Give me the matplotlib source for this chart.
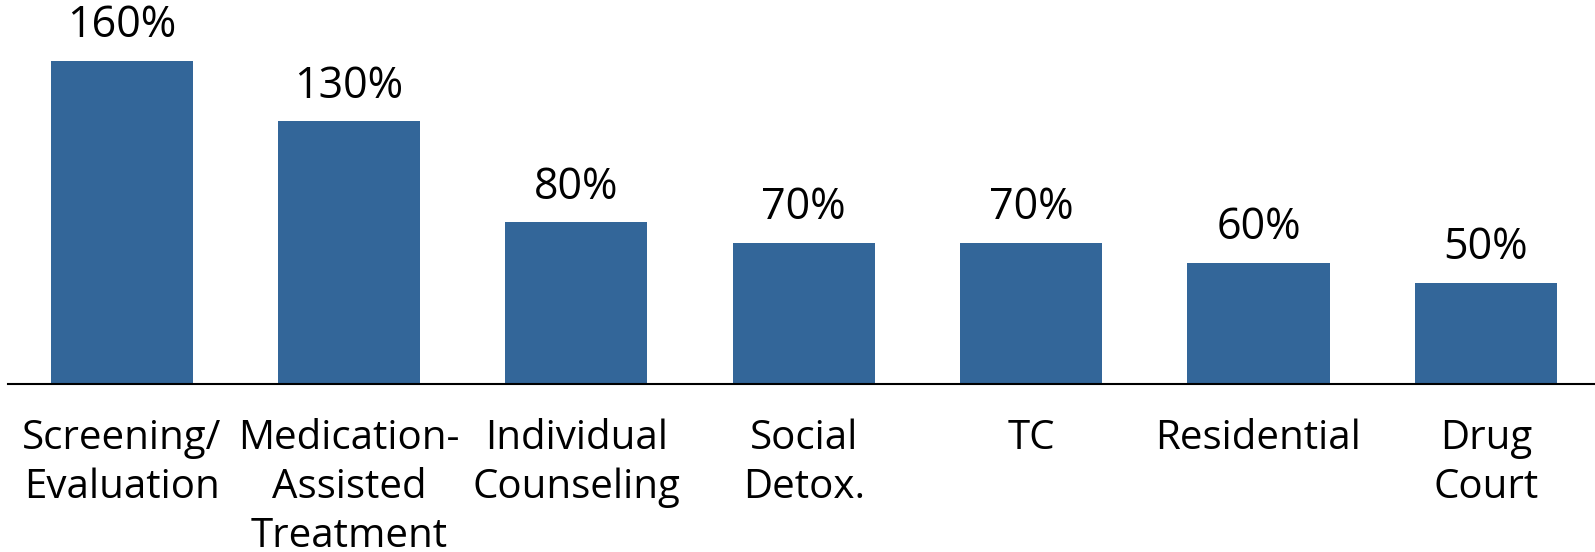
import matplotlib
matplotlib.use("Agg")
import matplotlib.pyplot as plt

categories = [
    "Screening/\nEvaluation",
    "Medication-\nAssisted\nTreatment",
    "Individual\nCounseling",
    "Social\nDetox.",
    "TC",
    "Residential",
    "Drug\nCourt",
]
values = [160, 130, 80, 70, 70, 60, 50]

plt.rcParams["font.family"] = ["Open Sans", "DejaVu Sans"]

fig = plt.figure(figsize=(15.95, 5.52), dpi=100)
ax = fig.add_axes([8 / 1595, 168 / 552, 1 - 8 / 1595, 1 - 168 / 552])

x = list(range(len(categories)))
bars = ax.bar(x, values, width=0.625, color="#336699", zorder=2)

for rect, v in zip(bars, values):
    ax.annotate(f"{v}%", (rect.get_x() + rect.get_width() / 2, rect.get_height()),
                xytext=(0, 9), textcoords="offset points",
                ha="center", va="bottom", fontsize=31, color="black")

ax.set_xlim(-0.5, 6.48)
ax.set_ylim(0, 190)
ax.set_xticks(x)
ax.set_xticklabels(categories, fontsize=29, linespacing=1.28)
ax.tick_params(axis="x", length=0, pad=25)
ax.set_yticks([])
for side in ("top", "right", "left"):
    ax.spines[side].set_visible(False)
ax.spines["bottom"].set_linewidth(1.5)
ax.spines["bottom"].set_zorder(3)

fig.savefig("out.png", dpi=100)
